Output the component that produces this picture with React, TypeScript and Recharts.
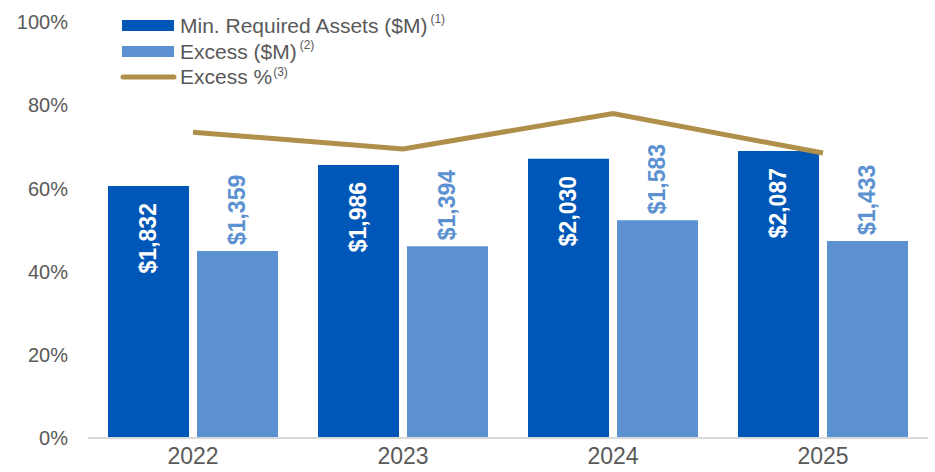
import React from 'react';
import { ComposedChart, Bar, Line, XAxis, YAxis, LabelList } from 'recharts';

const years = ['2022', '2023', '2024', '2025'];
const minRequired = [1832, 1986, 2030, 2087];
const excess = [1359, 1394, 1583, 1433];
const excessPct = [73.5, 69.5, 78, 68.5];
const pctTicks = [0, 20, 40, 60, 80, 100];

const DARK = '#0057B8';
const LIGHT = '#5B91D0';
const GOLD = '#B08F4A';
const GREY = '#595959';
const FONT = '"Liberation Sans", Arial, sans-serif';

const data = years.map((year, i) => ({
  year,
  minRequired: minRequired[i],
  excess: excess[i],
  excessPct: excessPct[i],
}));

const fmt = (v: number) => '$' + v.toLocaleString('en-US');

const DarkLabel = (props: any) => {
  const { x, y, width, value } = props;
  const cx = Number(x) + Number(width) / 2;
  const ty = Number(y) + 17;
  return (
    <text x={cx} y={ty} transform={`rotate(-90 ${cx} ${ty})`} textAnchor="end" dominantBaseline="central"
      fill="#fff" fontWeight="bold" fontSize={23} fontFamily={FONT}>
      {fmt(value)}
    </text>
  );
};

const LightLabel = (props: any) => {
  const { x, y, width, value } = props;
  const cx = Number(x) + Number(width) / 2;
  const ty = Number(y) - 6;
  return (
    <text x={cx} y={ty} transform={`rotate(-90 ${cx} ${ty})`} textAnchor="start" dominantBaseline="central"
      fill={LIGHT} fontWeight="bold" fontSize={23} fontFamily={FONT}>
      {fmt(value)}
    </text>
  );
};

const LegendBox = () => (
  <svg width={480} height={100} style={{ position: 'absolute', left: 0, top: 0 }}>
    <g fontFamily={FONT} fill={GREY}>
      <rect x={122} y={20} width={52} height={11} fill={DARK} />
      <text x={180} y={33} fontSize={21}>
        Min. Required Assets ($M)
        <tspan dx={3} dy={-10} fontSize={12}>(1)</tspan>
      </text>
      <rect x={122} y={46} width={52} height={11} fill={LIGHT} />
      <text x={180} y={59} fontSize={21}>
        Excess ($M)
        <tspan dx={3} dy={-10} fontSize={12}>(2)</tspan>
      </text>
      <line x1={123} y1={77} x2={174} y2={77} stroke={GOLD} strokeWidth={5} strokeLinecap="round" />
      <text x={180} y={84} fontSize={21}>
        Excess %
        <tspan dx={1} dy={-8} fontSize={12}>(3)</tspan>
      </text>
    </g>
  </svg>
);

export default function App() {
  return (
    <div style={{ position: 'absolute', left: 0, top: 0, width: 935, height: 472, background: '#fff' }}>
      <ComposedChart width={935} height={472} data={data}
        margin={{ top: 22, right: 7, bottom: 0, left: 0 }}
        barCategoryGap={20} barGap={8}>
        <XAxis dataKey="year" height={34} tickLine={false}
          axisLine={{ stroke: '#D9D9D9', strokeWidth: 2 }}
          tick={{ fill: GREY, fontSize: 23, fontFamily: FONT }} tickMargin={4} />
        <YAxis yAxisId="pct" width={88} domain={[0, 100]} ticks={pctTicks} axisLine={false}
          tickLine={false} tickSize={0} tickMargin={20}
          tickFormatter={(v) => `${v}%`}
          tick={{ fill: GREY, fontSize: 20, fontFamily: FONT }} />
        <YAxis yAxisId="usd" orientation="right" hide domain={[0, 3025]} />
        <Bar yAxisId="usd" dataKey="minRequired" fill={DARK} isAnimationActive={false}>
          <LabelList dataKey="minRequired" content={DarkLabel} />
        </Bar>
        <Bar yAxisId="usd" dataKey="excess" fill={LIGHT} isAnimationActive={false}>
          <LabelList dataKey="excess" content={LightLabel} />
        </Bar>
        <Line yAxisId="pct" type="linear" dataKey="excessPct" stroke={GOLD} strokeWidth={5}
          dot={false} activeDot={false} isAnimationActive={false} />
      </ComposedChart>
      <LegendBox />
    </div>
  );
}
